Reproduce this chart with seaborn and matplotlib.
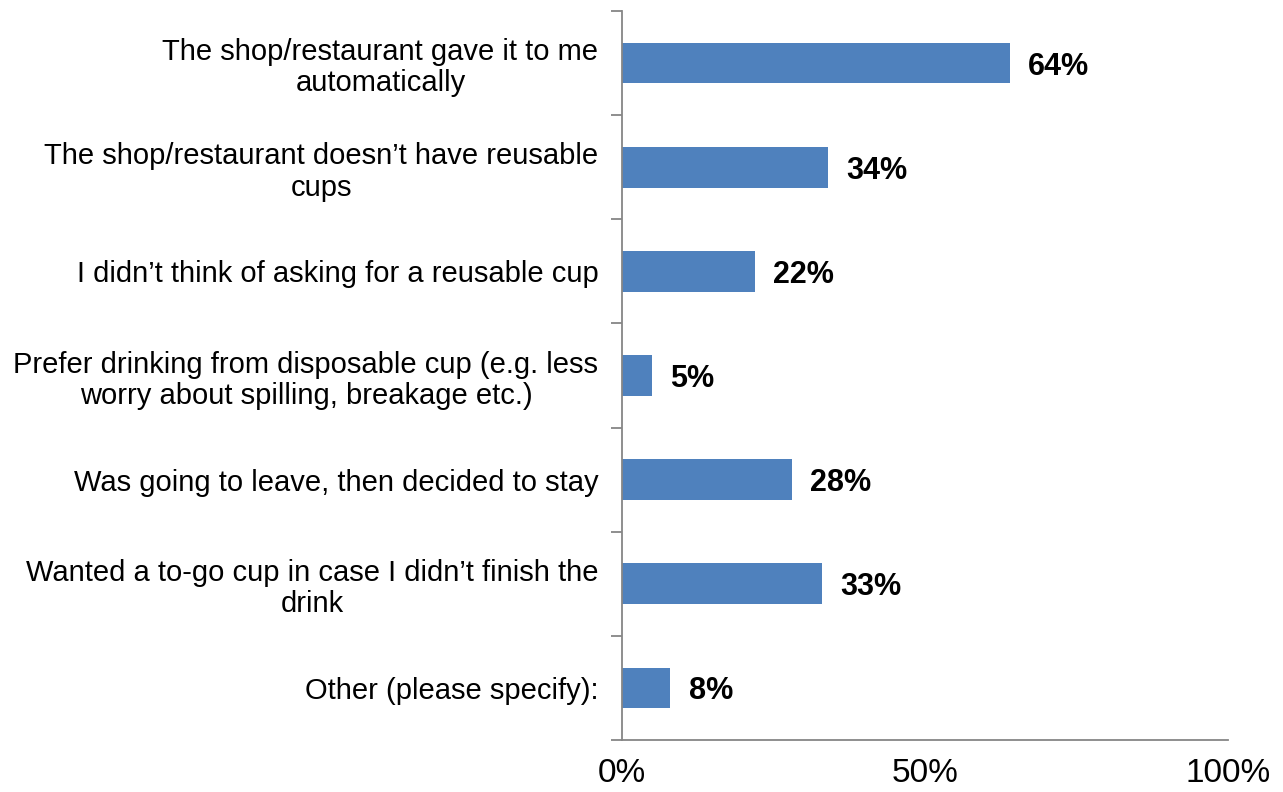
import matplotlib
matplotlib.use("Agg")
import matplotlib.pyplot as plt
from matplotlib.ticker import FixedLocator, PercentFormatter
import seaborn as sns
import pandas as pd

reasons = [
    "The shop/restaurant gave it to me\nautomatically",
    "The shop/restaurant doesn\u2019t have reusable\ncups",
    "I didn\u2019t think of asking for a reusable cup",
    "Prefer drinking from disposable cup (e.g. less\nworry about spilling, breakage etc.)",
    "Was going to leave, then decided to stay",
    "Wanted a to-go cup in case I didn\u2019t finish the\ndrink",
    "Other (please specify):",
]
shares = [64, 34, 22, 5, 28, 33, 8]
x_ticks = [0, 50, 100]

sns.set_theme(style="white")
plt.rcParams["font.family"] = ["Liberation Sans", "DejaVu Sans"]

df = pd.DataFrame({"reason": reasons, "share": shares})

fig = plt.figure(figsize=(12.83, 7.92), dpi=100)
ax = fig.add_axes([0.4848, 0.0657, 0.957 - 0.4848, 0.986 - 0.0657])

sns.barplot(data=df, x="share", y="reason", orient="h", color="#4F81BD",
            saturation=1, width=0.39, ax=ax, edgecolor="none")

ax.set_xlim(0, 100)
ax.set_ylim(len(reasons) - 0.5, -0.5)
ax.set_xlabel("")
ax.set_ylabel("")

axis_color = "#868686"
for side in ["top", "right"]:
    ax.spines[side].set_visible(False)
for side in ["left", "bottom"]:
    ax.spines[side].set_color(axis_color)
    ax.spines[side].set_linewidth(1.3)

ax.xaxis.set_major_locator(FixedLocator(x_ticks))
ax.xaxis.set_major_formatter(PercentFormatter(decimals=0))
ax.tick_params(axis="x", which="major", length=6, width=1.3, color=axis_color,
               direction="out", labelsize=24, labelcolor="black", pad=7)

ax.yaxis.set_minor_locator(FixedLocator([i - 0.5 for i in range(len(reasons) + 1)]))
ax.tick_params(axis="y", which="major", length=0, labelsize=21, labelcolor="black", pad=17)
ax.tick_params(axis="y", which="minor", length=8, width=1.3, color=axis_color,
               direction="out", left=True)
for lbl in ax.get_yticklabels():
    lbl.set_multialignment("center")
    lbl.set_linespacing(1.15)

for i, v in enumerate(shares):
    ax.annotate(f"{v}%", xy=(v, i), xytext=(13, 0), textcoords="offset points",
                ha="left", va="center_baseline", fontsize=22, fontweight="bold",
                color="black")

fig.savefig("out.png", dpi=100)
